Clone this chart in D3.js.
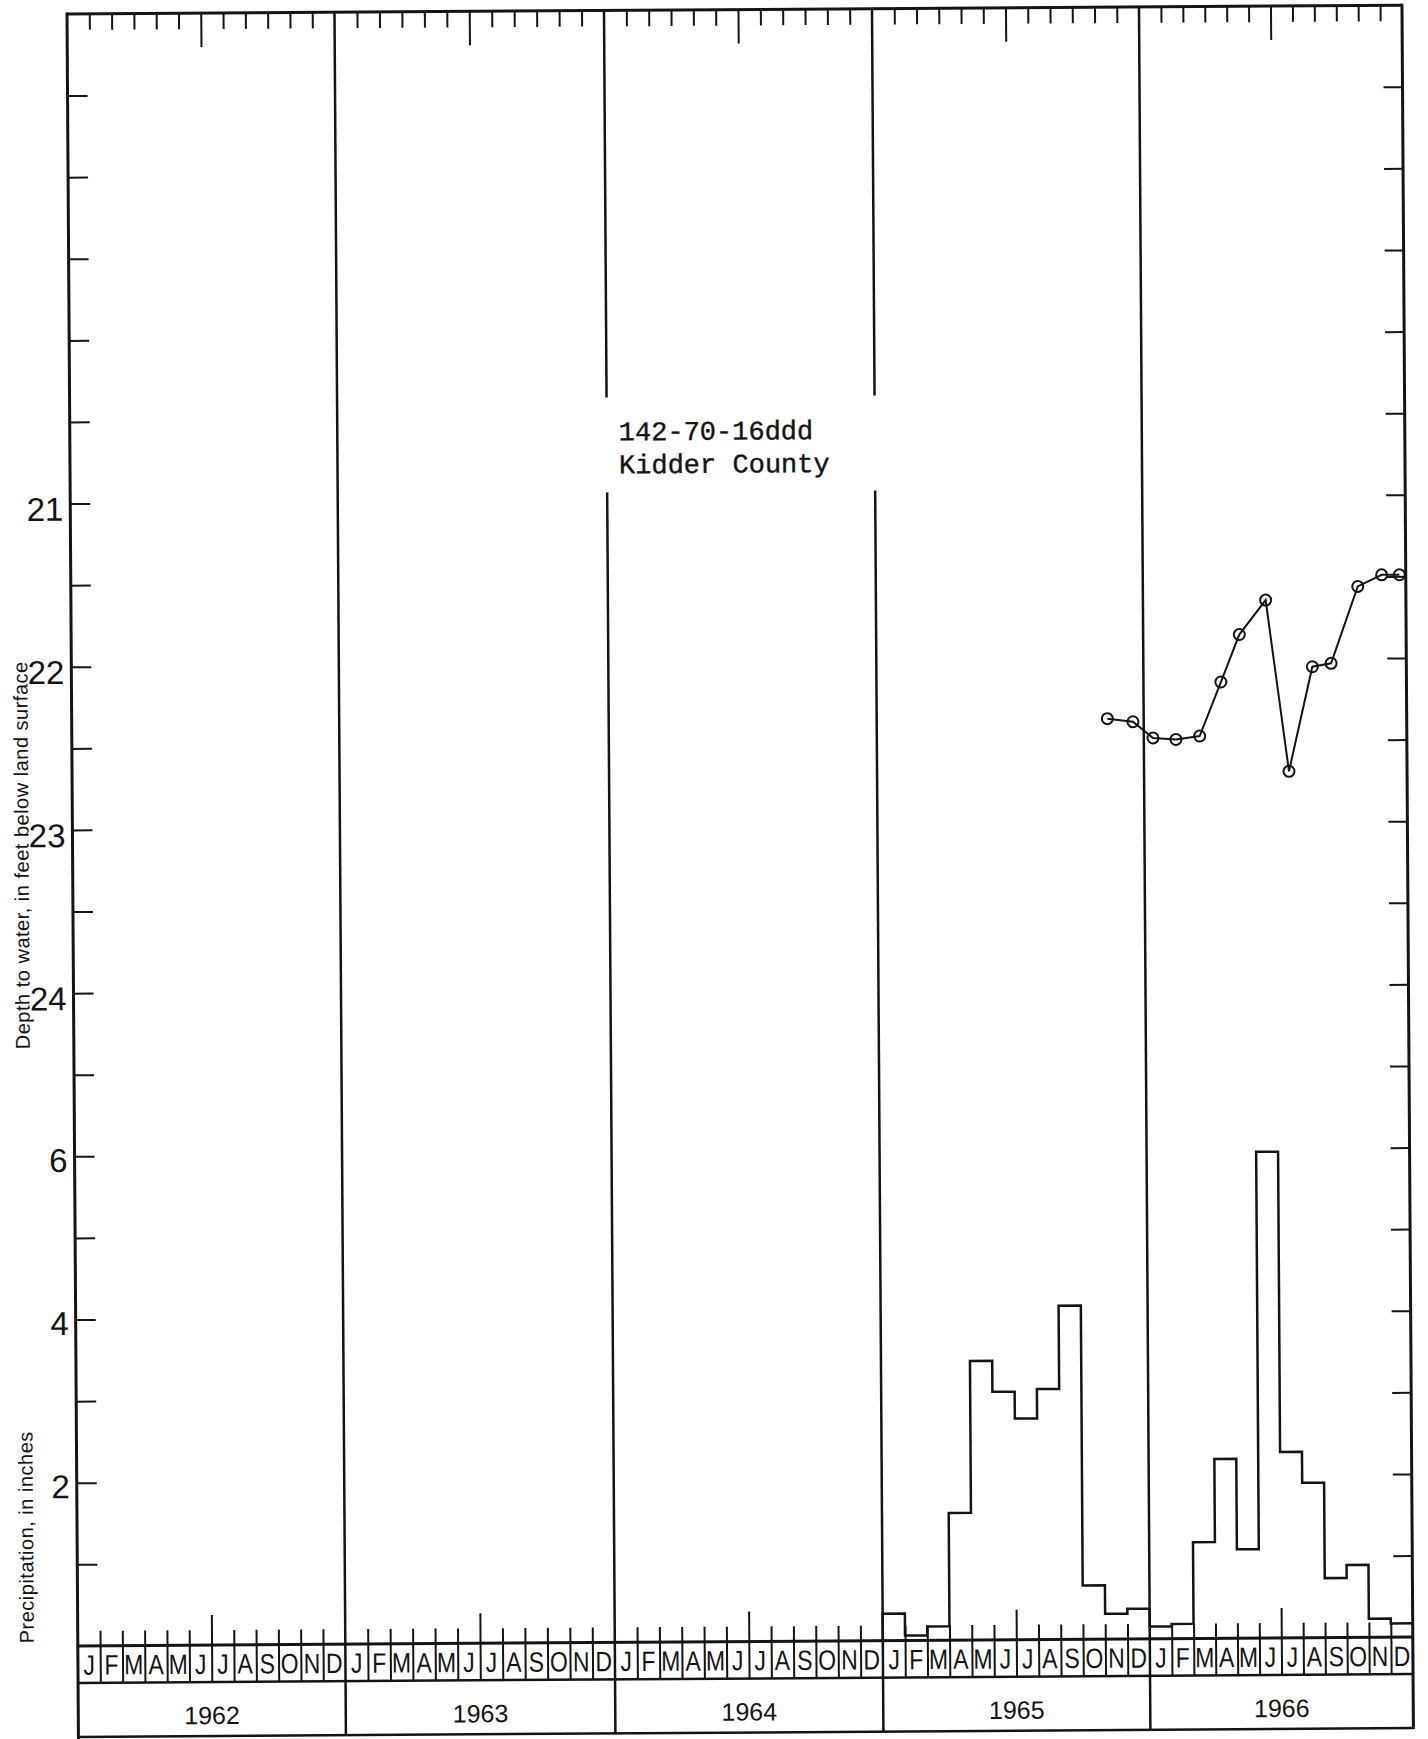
<!DOCTYPE html>
<html>
<head>
<meta charset="utf-8">
<script src="https://cdn.jsdelivr.net/npm/d3@7"></script>
<style>
  html, body { margin: 0; padding: 0; background: #fff; }
  svg { display: block; }
</style>
</head>
<body>
<svg id="chart" width="1428" height="1739"></svg>
<script>
const monthLetters = ["J", "F", "M", "A", "M", "J", "J", "A", "S", "O", "N", "D"];
const years = [1962, 1963, 1964, 1965, 1966];

const depthTicks = [18.5, 19, 19.5, 20, 20.5, 21, 21.5, 22, 22.5, 23, 23.5, 24, 24.5];
const depthLabels = [21, 22, 23, 24];
const precipTicks = [1, 2, 3, 4, 5, 6];
const precipLabels = [2, 4, 6];

// water level measurements, well 142-70-16ddd
const wellDates = ["1965-11-12", "1965-12-17", "1966-01-14", "1966-02-14", "1966-03-18", "1966-04-17", "1966-05-13",
                   "1966-06-19", "1966-07-20", "1966-08-23", "1966-09-18", "1966-10-26", "1966-11-28", "1966-12-23"];
const wellDepth = [22.36, 22.38, 22.48, 22.49, 22.47, 22.14, 21.85, 21.64, 22.69, 22.05, 22.03, 21.56, 21.49, 21.49];

// monthly precipitation, inches
const precipYears = [1965, 1966];
const precip1965 = [0.33, 0.06, 0.17, 1.56, 3.42, 3.04, 2.71, 3.07, 4.09, 0.66, 0.31, 0.37];
const precip1966 = [0.15, 0.18, 1.18, 2.20, 1.09, 5.96, 2.28, 1.90, 0.73, 0.89, 0.23, 0.17];

const siteName = ["142-70-16ddd", "Kidder County"];

// ---- layout ----
// the hand-drafted year columns are not all quite the same width
const yearEdges = [67, 334.5, 604, 872, 1139, 1402];
const T = 14, B = 1646;
const L = yearEdges[0], R = yearEdges[yearEdges.length - 1];
const bandBottom = 1683, yearBottom = 1737;
const ink = "#141414";
const sans = "'Liberation Sans', Arial, sans-serif";

const svg = d3.select("#chart");
// the original sheet sits slightly askew in the scan
const g = svg.append("g").attr("transform", `rotate(-0.38, ${L}, ${T})`);

const x = d3.scaleLinear().domain(yearEdges.map((d, i) => i * 12)).range(yearEdges);
const yDepth = d3.scaleLinear().domain([18, 28]).range([T, B]);
const yPrecip = d3.scaleLinear().domain([0, 20]).range([B, T]);

const monthIndex = (s) => {
    const [yy, mm, dd] = s.split("-").map(Number);
    const dim = new Date(yy, mm, 0).getDate();
    return (yy - years[0]) * 12 + (mm - 1) + (dd - 1) / dim;
};

const shortMonths = [], julyMonths = [];
for (let i = 1; i < years.length * 12; i++) {
    if (i % 12 === 0) continue;
    (i % 12 === 6 ? julyMonths : shortMonths).push(i);
}

const styleAxis = (sel, fontSize) => {
    sel.select(".domain").remove();
    sel.selectAll(".tick line").attr("stroke", ink).attr("stroke-width", 2);
    sel.attr("font-family", sans).attr("font-size", fontSize);
    sel.selectAll(".tick text").attr("fill", ink);
};

// left axes: depth (top part) and precipitation (bottom part)
g.append("g").attr("transform", `translate(${L},0)`)
    .call(d3.axisLeft(yDepth).tickValues(depthTicks).tickSizeInner(-20).tickSizeOuter(0).tickPadding(7)
        .tickFormat(d => depthLabels.includes(d) ? d : ""))
    .call(a => styleAxis(a, 33))
    .call(a => a.selectAll(".tick text").attr("dy", "0.5em"));

g.append("g").attr("transform", `translate(${L},0)`)
    .call(d3.axisLeft(yPrecip).tickValues(precipTicks).tickSizeInner(-20).tickSizeOuter(0).tickPadding(7)
        .tickFormat(d => precipLabels.includes(d) ? d : ""))
    .call(a => styleAxis(a, 33))
    .call(a => a.selectAll(".tick text").attr("dy", "0.45em"));

// right side ticks, no labels
g.append("g").attr("transform", `translate(${R},0)`)
    .call(d3.axisRight(yDepth).tickValues(depthTicks).tickSizeInner(-19).tickSizeOuter(0).tickFormat(""))
    .call(a => styleAxis(a, 10));
g.append("g").attr("transform", `translate(${R},0)`)
    .call(d3.axisRight(yPrecip).tickValues(precipTicks).tickSizeInner(-19).tickSizeOuter(0).tickFormat(""))
    .call(a => styleAxis(a, 10));

// month ticks along the top
g.append("g").attr("transform", `translate(0,${T})`)
    .call(d3.axisTop(x).tickValues(shortMonths).tickSizeInner(-16).tickSizeOuter(0).tickFormat(""))
    .call(a => styleAxis(a, 10));
g.append("g").attr("transform", `translate(0,${T})`)
    .call(d3.axisTop(x).tickValues(julyMonths).tickSizeInner(-34).tickSizeOuter(0).tickFormat(""))
    .call(a => styleAxis(a, 10));

// month cells at the bottom (separators rise above the band as ticks)
const bandH = bandBottom - B;
g.append("g").attr("transform", `translate(0,${bandBottom})`)
    .call(d3.axisBottom(x).tickValues(shortMonths).tickSizeInner(-(bandH + 15)).tickSizeOuter(0).tickFormat(""))
    .call(a => styleAxis(a, 10));
g.append("g").attr("transform", `translate(0,${bandBottom})`)
    .call(d3.axisBottom(x).tickValues(julyMonths).tickSizeInner(-(bandH + 30)).tickSizeOuter(0).tickFormat(""))
    .call(a => styleAxis(a, 10));

// month letters and years
years.forEach((yr, yi) => {
    monthLetters.forEach((m, mi) => {
        const cx = x(yi * 12 + mi + 0.5);
        g.append("text")
            .attr("transform", `translate(${cx},${B + bandH / 2 + 10.2}) scale(0.82,1)`)
            .attr("text-anchor", "middle")
            .attr("font-family", sans).attr("font-size", 28).attr("fill", ink)
            .text(m);
    });
    g.append("text")
        .attr("x", x(yi * 12 + 6)).attr("y", 1725)
        .attr("text-anchor", "middle")
        .attr("font-family", sans).attr("font-size", 25).attr("fill", ink)
        .text(yr);
});

// frame and dividers
const hline = (yv, w) => g.append("line").attr("x1", L).attr("x2", R).attr("y1", yv).attr("y2", yv)
    .attr("stroke", ink).attr("stroke-width", w);
const vline = (xv, y1, y2, w) => g.append("line").attr("x1", xv).attr("x2", xv).attr("y1", y1).attr("y2", y2)
    .attr("stroke", ink).attr("stroke-width", w);

hline(T, 3);
hline(B, 3);
hline(bandBottom, 2.5);
hline(yearBottom, 2.5);
vline(L, T - 1.5, 1745, 3);
vline(R, T - 1.5, yearBottom + 1, 3);
for (let k = 1; k < years.length; k++) vline(x(k * 12), T, yearBottom, 2.5);

// label block interrupts the 1964 dividers
g.append("rect")
    .attr("x", x(24) - 6).attr("y", 401)
    .attr("width", x(36) - x(24) + 12).attr("height", 95)
    .attr("fill", "#fff");
siteName.forEach((t, i) => {
    g.append("text")
        .attr("x", 616).attr("y", 444 + i * 33)
        .attr("font-family", "'Liberation Mono', 'Courier New', monospace")
        .attr("font-size", 27).attr("fill", ink)
        .attr("stroke", ink).attr("stroke-width", 0.4)
        .text(t);
});

// axis titles
g.append("text")
    .attr("transform", `translate(23,855) rotate(-90)`)
    .attr("text-anchor", "middle")
    .attr("font-family", sans).attr("font-size", 20).attr("letter-spacing", 0.5).attr("fill", ink)
    .text("Depth to water, in feet below land surface");
g.append("text")
    .attr("transform", `translate(23,1537) rotate(-90)`)
    .attr("text-anchor", "middle")
    .attr("font-family", sans).attr("font-size", 20).attr("letter-spacing", 0.5).attr("fill", ink)
    .text("Precipitation, in inches");

// precipitation step outline
const precipSeries = [precip1965, precip1966];
const precipPts = [];
precipYears.forEach((yr, yi) => {
    precipSeries[yi].forEach((v, m) => precipPts.push({ i: (yr - years[0]) * 12 + m, v: v }));
});
const lastP = precipPts[precipPts.length - 1];
const stepData = [{ i: precipPts[0].i, v: 0 }, ...precipPts, { i: lastP.i + 1, v: lastP.v }];

g.append("path")
    .datum(stepData)
    .attr("fill", "none")
    .attr("stroke", ink)
    .attr("stroke-width", 2.5)
    .attr("d", d3.line().x(d => x(d.i)).y(d => yPrecip(d.v)).curve(d3.curveStepAfter));

// water level hydrograph
const wellPts = wellDates.map((d, i) => ({ i: monthIndex(d), v: wellDepth[i] }));
g.append("path")
    .datum(wellPts)
    .attr("fill", "none")
    .attr("stroke", ink)
    .attr("stroke-width", 2)
    .attr("d", d3.line().x(d => x(d.i)).y(d => yDepth(d.v)));

g.selectAll(".obs")
    .data(wellPts)
    .enter()
    .append("circle")
    .attr("class", "obs")
    .attr("cx", d => x(d.i))
    .attr("cy", d => yDepth(d.v))
    .attr("r", 5.5)
    .attr("fill", "none")
    .attr("stroke", ink)
    .attr("stroke-width", 2);
</script>
</body>
</html>
